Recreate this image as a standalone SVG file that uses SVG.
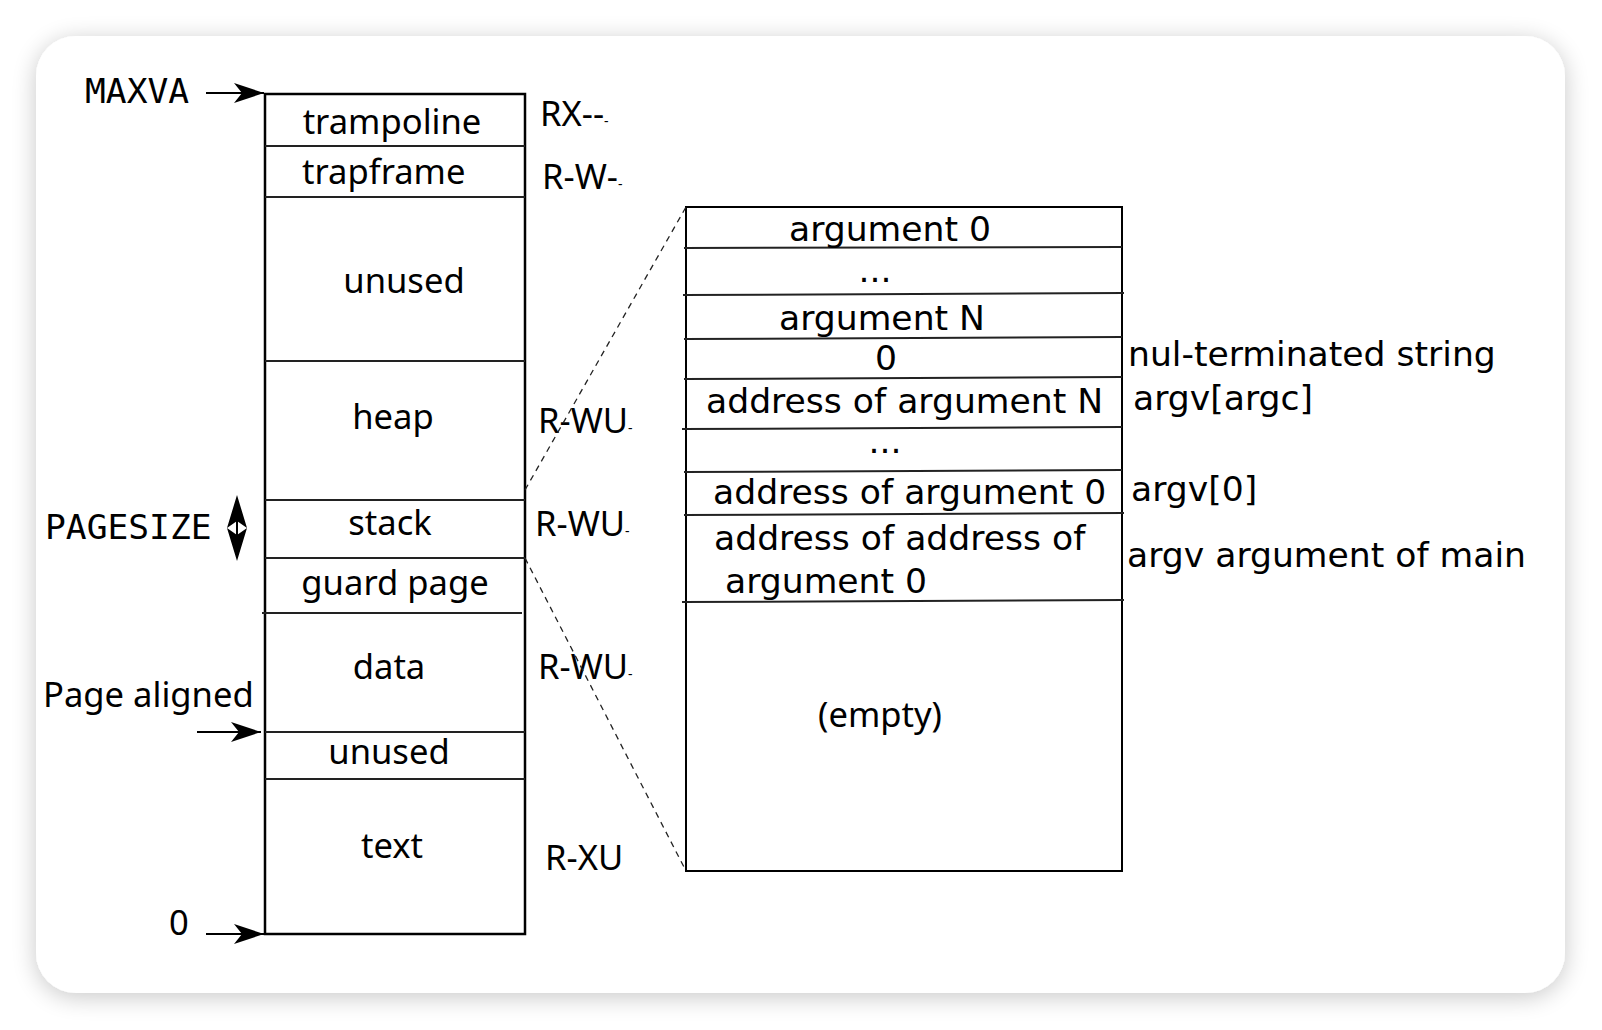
<svg xmlns="http://www.w3.org/2000/svg" width="1602" height="1030" viewBox="0 0 1602 1030">
<style>
.l{font-family:"Noto Sans","Open Sans",sans-serif;font-size:34.6px;fill:#000}
.r{font-family:"DejaVu Sans",sans-serif;font-size:34.6px;fill:#000}
.m{font-family:"DejaVu Sans Mono",monospace;font-size:34.6px;fill:#000}
.box{fill:none;stroke:#000;stroke-width:2.5}
.div{stroke:#222;stroke-width:2}
.dash{stroke:#222;stroke-width:1.3;stroke-dasharray:6 5;fill:none}
.arr{stroke:#000;stroke-width:2;fill:none;marker-end:url(#ah)}
.small{font-size:14px}
</style>
<defs>
<filter id="sh" x="-5%" y="-5%" width="110%" height="110%">
<feGaussianBlur in="SourceAlpha" stdDeviation="12"/>
<feOffset dx="0" dy="4"/>
<feComponentTransfer><feFuncA type="linear" slope="0.22"/></feComponentTransfer>
<feMerge><feMergeNode/><feMergeNode in="SourceGraphic"/></feMerge>
</filter>
<marker id="ah" viewBox="-32 -12 34 24" refX="0" refY="0" markerWidth="34" markerHeight="24" markerUnits="userSpaceOnUse" orient="auto">
<path d="M0,0 L-30,-10 L-22,0 L-30,10 Z" fill="#000"/>
</marker>
</defs>
<rect width="1602" height="1030" fill="#fff"/>
<rect x="36" y="36" width="1529" height="957" rx="40" fill="#fff" filter="url(#sh)"/>

<g id="memory">
<rect class="box" x="265" y="94" width="260" height="840"/>
<line class="div" x1="265" y1="146" x2="525" y2="146"/>
<line class="div" x1="265" y1="197" x2="525" y2="197"/>
<line class="div" x1="265" y1="361" x2="525" y2="361"/>
<line class="div" x1="265" y1="500" x2="525" y2="500"/>
<line class="div" x1="265" y1="558" x2="525" y2="558"/>
<line class="div" x1="262" y1="613" x2="522" y2="613"/>
<line class="div" x1="265" y1="732" x2="525" y2="732"/>
<line class="div" x1="265" y1="779" x2="525" y2="779"/>
</g>
<g id="memory-labels">
<text class="l" x="392" y="134" text-anchor="middle">trampoline</text>
<text class="l" x="302" y="184">trapframe</text>
<text class="l" x="404" y="293" text-anchor="middle">unused</text>
<text class="l" x="393" y="429" text-anchor="middle">heap</text>
<text class="l" x="390" y="535" text-anchor="middle">stack</text>
<text class="l" x="395" y="595" text-anchor="middle">guard page</text>
<text class="l" x="389" y="679" text-anchor="middle">data</text>
<text class="l" x="389" y="764" text-anchor="middle">unused</text>
<text class="l" x="392" y="858" text-anchor="middle">text</text>
</g>
<g id="perms">
<text class="l" x="540" y="126">RX--<tspan class="small">-</tspan></text>
<text class="l" x="542" y="189">R-W-<tspan class="small">-</tspan></text>
<text class="l" x="538" y="433">R-WU<tspan class="small">-</tspan></text>
<text class="l" x="535" y="536">R-WU<tspan class="small">-</tspan></text>
<text class="l" x="538" y="679">R-WU<tspan class="small">-</tspan></text>
<text class="l" x="545" y="870">R-XU</text>
</g>
<g id="left-labels">
<text class="m" x="85" y="103">MAXVA</text>
<text class="m" x="45" y="539">PAGESIZE</text>
<text class="l" x="43" y="707">Page aligned</text>
<text class="l" x="169" y="935">0</text>
</g>

<g id="stack-detail">
<rect class="box" x="686" y="207" width="436" height="664" style="stroke-width:2"/>
<line class="div" x1="684" y1="248" x2="1122" y2="247"/>
<line class="div" x1="683" y1="295" x2="1124" y2="293"/>
<line class="div" x1="684" y1="339" x2="1122" y2="337"/>
<line class="div" x1="684" y1="379" x2="1122" y2="377"/>
<line class="div" x1="682" y1="429" x2="1122" y2="427"/>
<line class="div" x1="684" y1="472" x2="1122" y2="470"/>
<line class="div" x1="684" y1="515" x2="1124" y2="513"/>
<line class="div" x1="682" y1="602" x2="1124" y2="600"/>
<text class="r" x="890" y="241" text-anchor="middle">argument 0</text>
<text class="r" x="875" y="282" text-anchor="middle">...</text>
<text class="r" x="882" y="330" text-anchor="middle">argument N</text>
<text class="r" x="886" y="370" text-anchor="middle">0</text>
<text class="r" x="706" y="413">address of argument N</text>
<text class="r" x="885" y="453" text-anchor="middle">...</text>
<text class="r" x="713" y="504">address of argument 0</text>
<text class="r" x="714" y="550">address of address of</text>
<text class="r" x="725" y="593">argument 0</text>
<text class="l" x="880" y="727" text-anchor="middle">(empty)</text>
</g>
<g id="side-labels">
<text class="r" x="1128" y="366">nul-terminated string</text>
<text class="r" x="1133" y="410">argv[argc]</text>
<text class="r" x="1131" y="501">argv[0]</text>
<text class="r" x="1127" y="567">argv argument of main</text>
</g>

<g id="connectors">
<line class="arr" x1="206" y1="93" x2="264" y2="93"/>
<line class="arr" x1="206" y1="934" x2="264" y2="934"/>
<line class="arr" x1="197" y1="732" x2="261" y2="732"/>
<line x1="237" y1="519" x2="237" y2="537" stroke="#000" stroke-width="2"/>
<path d="M237,495 L247,528 L237,521 L227,528 Z" fill="#000"/>
<path d="M237,561 L247,528 L237,535 L227,528 Z" fill="#000"/>
<line class="dash" x1="525" y1="490" x2="686" y2="207"/>
<line class="dash" x1="525" y1="558" x2="686" y2="871"/>
</g>
</svg>
